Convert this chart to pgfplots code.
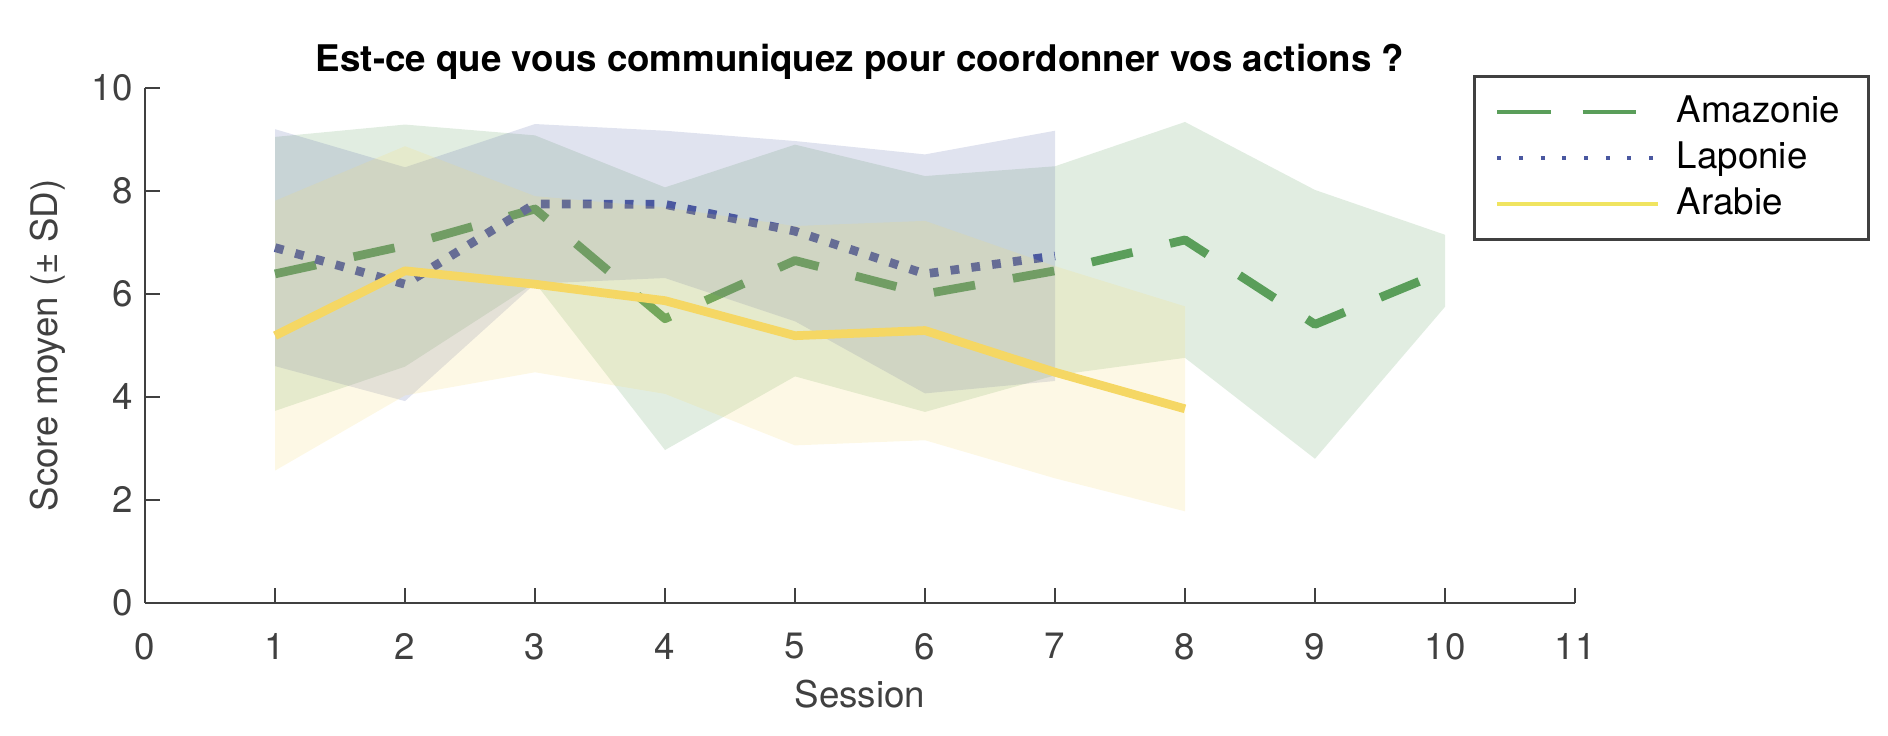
\documentclass[border=0pt]{standalone}
\usepackage{fontspec}
\setmainfont{TeX Gyre Heros}
\usepackage{pgfplots}
\pgfplotsset{compat=1.18}
\usetikzlibrary{calc}
\definecolor{ama}{RGB}{90,158,90}
\definecolor{lap}{RGB}{74,88,160}
\definecolor{ara}{RGB}{245,215,100}
\definecolor{aralg}{RGB}{240,228,96}
\definecolor{axgray}{RGB}{64,64,64}
\begin{document}
\begin{tikzpicture}
\begin{axis}[
  name=ax,
  scale only axis,
  width=409pt, height=147.3pt,
  xmin=0, xmax=11, ymin=0, ymax=10,
  xtick={0,1,...,11}, ytick={0,2,...,10},
  axis lines*=left,
  axis line style={axgray, line width=0.8pt},
  tick style={axgray, line width=0.8pt},
  tick align=inside,
  major tick length=4.4pt,
  /pgf/number format/assume math mode=true,
  ticklabel style={font=\fontsize{10.5}{12}\selectfont, text=axgray},
  xticklabel style={yshift=-5.2pt},
  xlabel={Session},
  ylabel={Score moyen (± SD)},
  label style={font=\fontsize{10.5}{12}\selectfont, text=axgray},
  xlabel style={at={(axis description cs:0.5,0)}, anchor=center, yshift=-26pt},
  ylabel style={at={(axis description cs:-0.068,0.5)}, anchor=center},
  every axis title shift=0pt,
  title={Est-ce que vous communiquez pour coordonner vos actions ?},
  title style={font=\bfseries\fontsize{10.5}{12}\selectfont, at={(axis description cs:0.5,1)}, anchor=base, yshift=4.6pt},
  legend style={at={(0.9286,1.0253)}, anchor=north west, draw=axgray, line width=0.9pt,
    font=\fontsize{10.5}{12}\selectfont, inner xsep=6pt, inner ysep=3.6pt, row sep=0pt, fill=white,
    /tikz/every odd column/.append style={column sep=3pt}},
  legend cell align=left,
  legend image code/.code={\draw[#1] (0pt,0pt) -- (45.8pt,0pt);},
]
% Amazonie band and mean
\addplot[fill=ama, fill opacity=0.18, draw=none, forget plot] coordinates {
 (1,9.05) (2,9.29) (3,9.08) (4,8.07) (5,8.90) (6,8.29) (7,8.48) (8,9.34) (9,8.02) (10,7.15)
 (10,5.75) (9,2.80) (8,4.76) (7,4.42) (6,3.71) (5,4.40) (4,2.97) (3,6.22) (2,4.59) (1,3.73)} -- cycle;
\addplot[ama, line width=2.5pt, dash pattern=on 12pt off 11pt, line join=round, forget plot] coordinates {
 (1,6.39) (2,6.94) (3,7.65) (4,5.52) (5,6.65) (6,6.00) (7,6.45) (8,7.05) (9,5.41) (10,6.45)};
% Laponie band and mean
\addplot[fill=lap, fill opacity=0.17, draw=none, forget plot] coordinates {
 (1,9.20) (2,8.46) (3,9.30) (4,9.17) (5,8.97) (6,8.71) (7,9.17)
 (7,4.31) (6,4.07) (5,5.47) (4,6.31) (3,6.20) (2,3.92) (1,4.60)} -- cycle;
\addplot[lap, line width=2.5pt, dash pattern=on 2.5pt off 3.5pt, forget plot] coordinates {
 (1,6.90) (2,6.19) (3,7.75) (4,7.74) (5,7.22) (6,6.39) (7,6.74)};
% Arabie band and mean
\addplot[fill=ara, fill opacity=0.17, draw=none, forget plot] coordinates {
 (1,7.81) (2,8.87) (3,7.90) (4,7.68) (5,7.32) (6,7.42) (7,6.54) (8,5.76)
 (8,1.78) (7,2.42) (6,3.16) (5,3.06) (4,4.06) (3,4.48) (2,4.03) (1,2.57)} -- cycle;
\addplot[ara, line width=2.5pt, line join=round, forget plot] coordinates {
 (1,5.19) (2,6.45) (3,6.19) (4,5.87) (5,5.19) (6,5.29) (7,4.48) (8,3.77)};
% legend
\addlegendimage{ama, line width=1.1pt, dash pattern=on 15.2pt off 9.2pt}
\addlegendentry{Amazonie}
\addlegendimage{lap, line width=1.1pt, dash pattern=on 1.1pt off 5.1pt}
\addlegendentry{Laponie}
\addlegendimage{aralg, line width=1.1pt}
\addlegendentry{Arabie}
\end{axis}
\pgfresetboundingbox
\path[use as bounding box] ($(ax.south west)+(-41.48pt,-38.04pt)$) rectangle ($(ax.north east)+(89.53pt,25.17pt)$);
\end{tikzpicture}
\end{document}
